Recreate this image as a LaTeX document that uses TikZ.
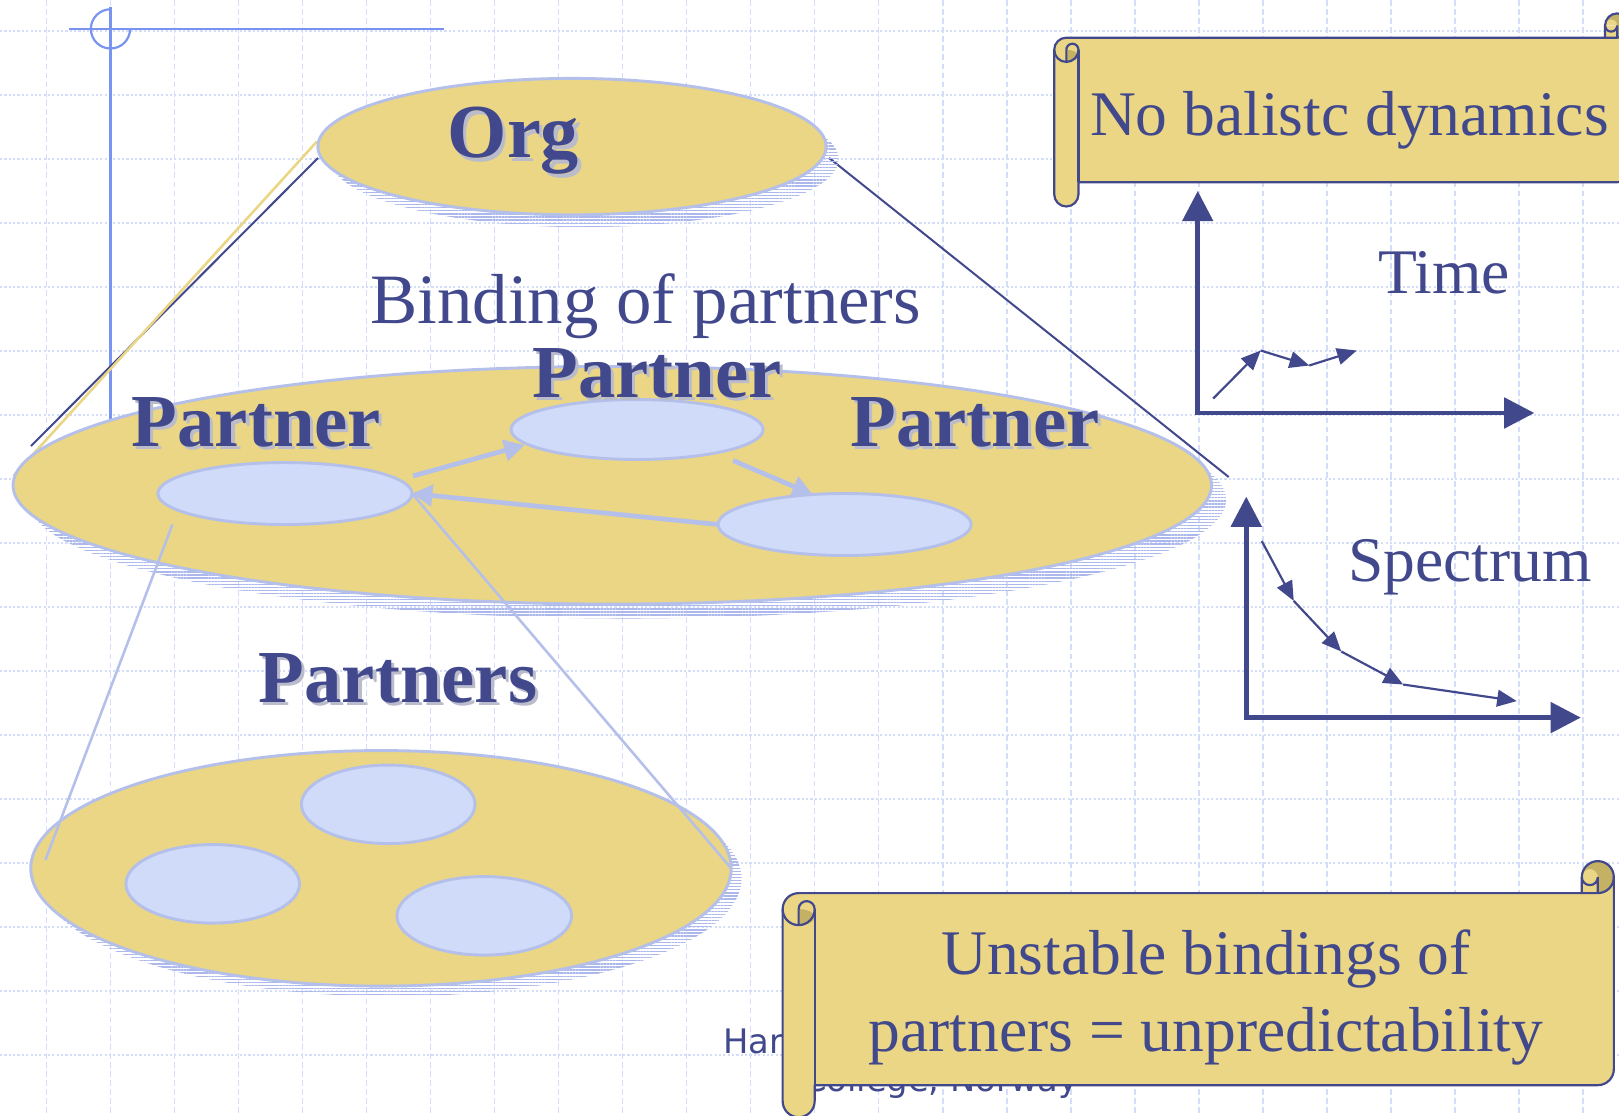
\documentclass[tikz,border=0pt]{standalone}
\usepackage{fontspec}
\setmainfont{Liberation Serif}
\newfontfamily\footfont{DejaVu Sans}
\usetikzlibrary{shapes.geometric,patterns.meta,arrows.meta}
\definecolor{khaki}{RGB}{234,214,132}
\definecolor{curlc}{RGB}{196,177,99}
\definecolor{lblue}{RGB}{207,219,249}
\definecolor{edgeblue}{RGB}{180,191,234}
\definecolor{hatchc}{RGB}{172,184,236}
\definecolor{dblue}{RGB}{65,72,140}
\definecolor{gridc}{RGB}{212,222,250}
\definecolor{crossc}{RGB}{120,148,240}
\definecolor{tshadow}{RGB}{186,188,204}
\newcommand\myscroll[5]{%
 \pgfmathsetmacro\scL{#1}\pgfmathsetmacro\scT{#2}%
 \pgfmathsetmacro\scR{#3}\pgfmathsetmacro\scB{#4}%
 \pgfmathsetmacro\scH{#5/2}\pgfmathsetmacro\scQ{#5/4}%
 \pgfmathsetmacro\scyA{#2+#5/2}\pgfmathsetmacro\scyB{#2+#5}%
 \pgfmathsetmacro\scyC{#2+1.5*#5}\pgfmathsetmacro\scyD{#2+2*#5}%
 \pgfmathsetmacro\scyE{#4-1.5*#5}\pgfmathsetmacro\scyF{#4-#5}\pgfmathsetmacro\scyG{#4-#5/2}%
 \pgfmathsetmacro\scxA{#1+#5/2}\pgfmathsetmacro\scxB{#1+#5}%
 \pgfmathsetmacro\scxC{#3-#5}\pgfmathsetmacro\scxD{#3-#5/2}%
 \fill[khaki] (\scR,\scyA) arc[start angle=0,end angle=90,radius=\scH] -- (\scxA,\scyB) arc[start angle=270,end angle=180,radius=\scH] -- (\scL,\scyG) arc[start angle=180,end angle=0,radius=\scH] -- (\scxB,\scyF) -- (\scxD,\scyF) arc[start angle=90,end angle=0,radius=\scH] -- cycle;
 \fill[khaki] (\scxC,\scyA) rectangle (\scxD,\scyB);
 \fill[khaki] (\scxC,\scyA) arc[start angle=180,end angle=360,radius=\scQ] -- cycle;
 \fill[curlc] (\scxD,\scyB) arc[start angle=90,end angle=-180,radius=\scH] arc[start angle=180,end angle=360,radius=\scQ] -- cycle;
 \fill[curlc] (\scxA,\scyD) arc[start angle=90,end angle=-90,x radius=\scH,y radius=\scQ] -- cycle;
 \draw[scrollline,line join=round] (\scL,\scyC) arc[start angle=180,end angle=270,radius=\scH] -- (\scxC,\scyB) -- (\scxC,\scyA) arc[start angle=180,end angle=360,radius=\scH] -- (\scR,\scyE) arc[start angle=0,end angle=90,radius=\scH] -- (\scxB,\scyF) -- (\scxB,\scyG) arc[start angle=0,end angle=180,radius=\scH] -- cycle;
 \draw[scrollline] (\scxC,\scyB) -- (\scxD,\scyB) arc[start angle=90,end angle=0,radius=\scH];
 \draw[scrollline] (\scxD,\scyB) -- (\scxD,\scyA) arc[start angle=0,end angle=180,radius=\scQ];
 \draw[scrollline] (\scxA,\scyD) -- (\scxA,\scyC) arc[start angle=180,end angle=360,radius=\scQ] arc[start angle=0,end angle=180,radius=\scH];
 \draw[scrollline] (\scxB,\scyC) -- (\scxB,\scyF);
}
\begin{document}
\begin{tikzpicture}[x=0.01cm,y=-0.01cm,
  gridv/.style={gridc,line width=0.45pt,dash pattern=on 1.6pt off 0.9pt},
  gridh/.style={gridc,line width=0.45pt,dash pattern=on 0.6pt off 0.6pt},
  bigell/.style={ellipse,draw=edgeblue,line width=0.8pt,fill=khaki,inner sep=0pt,outer sep=0pt},
  smallell/.style={ellipse,draw=edgeblue,line width=0.8pt,fill=lblue,inner sep=0pt,outer sep=0pt},
  hatchfill/.style={pattern={Lines[angle=0,distance=0.85pt,line width=0.35pt]},pattern color=hatchc},
  blab/.style={font=\fontsize{20.6}{24}\selectfont\bfseries,text=dblue,inner sep=0pt,anchor=base west},
  blabsh/.style={blab,text=tshadow},
  rlab/.style={font=\fontsize{17.5}{21.1}\selectfont,text=dblue,inner sep=0pt,anchor=base west},
  axisline/.style={dblue,line width=1.3pt,line join=miter,{Triangle[length=8.3pt,width=8.3pt]}-{Triangle[length=8.3pt,width=8.3pt]}},
  sarrow/.style={dblue,line width=0.6pt,-{Triangle[length=5.4pt,width=4.6pt]}},
  larrow/.style={edgeblue,line width=1.3pt,-{Triangle[length=5.6pt,width=5.8pt]}},
  zoomline/.style={edgeblue,line width=0.7pt},
  conn/.style={dblue,line width=0.55pt},
  scrollline/.style={dblue,line width=0.6pt},
  footlab/.style={font=\footfont\fontsize{9.3}{11}\selectfont,text=dblue,inner sep=0pt,anchor=base west},
]
\useasboundingbox (0,0) rectangle (1568,1080);
\clip (0,0) rectangle (1568,1080);
\fill[white] (0,0) rectangle (1568,1080);
% grid
\foreach \gx in {45,107,...,1540} \draw[gridv] (\gx,0) -- (\gx,1080);
\foreach \gy in {30,92,...,1080} \draw[gridh] (0,\gy) -- (1568,\gy);
% corner mark
\draw[crossc,line width=0.6pt] (67,28) -- (430,28);
\draw[crossc,line width=0.6pt] (107,7) -- (107,440);
\draw[crossc,line width=0.6pt] (126,28) arc[start angle=0,end angle=270,radius=19];
% connector lines from Org
\coordinate (oL1) at (308,153); \coordinate (pE1) at (30,432);
\coordinate (oL2) at (307,137); \coordinate (pE2) at (13,461);
\coordinate (oR) at (803,153); \coordinate (pE3) at (1190,462);
\draw[conn] (oL1) -- (pE1);
\draw[khaki,line width=0.7pt] (oL2) -- (pE2);
\draw[conn] (oR) -- (pE3);
% shadows
\fill[hatchfill] (566,154) ellipse[x radius=2.46cm,y radius=0.66cm];
\fill[hatchfill] (607,484) ellipse[x radius=5.8cm,y radius=1.15cm];
\fill[hatchfill] (379,851) ellipse[x radius=3.39cm,y radius=1.14cm];
% ellipses
\node[bigell,minimum width=4.92cm,minimum height=1.32cm] (org) at (554,142) {};
\node[bigell,minimum width=11.6cm,minimum height=2.3cm] (pe) at (593,470) {};
\node[bigell,minimum width=6.78cm,minimum height=2.28cm] (ps) at (369,841) {};
\node[smallell,minimum width=2.46cm,minimum height=0.6cm] (pl) at (276,478) {};
\node[smallell,minimum width=2.44cm,minimum height=0.58cm] (pt) at (617,416) {};
\node[smallell,minimum width=2.45cm,minimum height=0.6cm] (pr) at (818,508) {};
\node[smallell,minimum width=1.68cm,minimum height=0.76cm] (s1) at (376,779) {};
\node[smallell,minimum width=1.68cm,minimum height=0.76cm] (s2) at (206,856) {};
\node[smallell,minimum width=1.69cm,minimum height=0.76cm] (s3) at (469,887) {};
% arrows between partners
\coordinate (a1s) at (400,461); \coordinate (a1e) at (508,431);
\coordinate (a2s) at (710,446); \coordinate (a2e) at (787,479);
\draw[larrow] (a1s) -- (a1e);
\draw[larrow] (a2s) -- (a2e);
\draw[larrow] (pr.west) -- (pl.east);
% zoom lines
\coordinate (z1) at (167,508); \coordinate (z2) at (44,833);
\draw[zoomline] (z1) -- (z2);
\draw[zoomline] (pl.east) -- (ps.east);
% labels
\node[blabsh,font=\fontsize{21}{24}\selectfont\bfseries] at (436,156) {Org};
\node[blab,font=\fontsize{21}{24}\selectfont\bfseries] (torg) at (433,153) {Org};
\node[rlab,font=\fontsize{19.5}{23}\selectfont] (tbind) at (358,313) {Binding of partners};
\node[blabsh] at (130,435) {Partner};
\node[blab] (tp1) at (127,432) {Partner};
\node[blabsh] at (518,388) {Partner};
\node[blab] (tp2) at (515,385) {Partner};
\node[blabsh] at (826,435) {Partner};
\node[blab] (tp3) at (823,432) {Partner};
\node[blabsh] at (253,683) {Partners};
\node[blab] (tps) at (250,680) {Partners};
% time graph
\coordinate (t0) at (1160,400); \coordinate (ty) at (1160,185); \coordinate (tx) at (1486,400);
\draw[axisline] (ty) -- (t0) -- (tx);
\coordinate (ta1) at (1175,386); \coordinate (ta2) at (1221,339.5);
\coordinate (ta3) at (1268,354); \coordinate (ta4) at (1314,339.5);
\draw[sarrow] (ta1) -- (ta2);
\draw[sarrow] (ta2) -- (ta3);
\draw[sarrow] (ta3) -- (ta4);
\node[rlab] (ttime) at (1334,284) {Time};
% spectrum graph
\coordinate (s0) at (1207,695); \coordinate (sy) at (1207,481); \coordinate (sx) at (1531,695);
\draw[axisline] (sy) -- (s0) -- (sx);
\coordinate (sp1) at (1222,524); \coordinate (sp2) at (1253,582);
\coordinate (sp3) at (1299,631); \coordinate (sp4) at (1359,663);
\coordinate (sp5) at (1469,679);
\draw[sarrow] (sp1) -- (sp2);
\draw[sarrow] (sp2) -- (sp3);
\draw[sarrow] (sp3) -- (sp4);
\draw[sarrow] (sp4) -- (sp5);
\node[rlab] (tspec) at (1305,563) {Spectrum};
% top scroll
\myscroll{1021}{13}{1578}{200}{23.5}
\node[rlab] (tnob) at (1055,131) {No balistc dynamics};
% footer
\node[footlab] (f1) at (700,1020) {Har};
\node[footlab] (f2) at (777,1057) {College, Norway};
% bottom scroll
\myscroll{758}{834}{1563}{1082}{31}
\node[rlab,anchor=base,align=center] (tunst) at (1168,1018) {Unstable bindings of\\partners = unpredictability};
\end{tikzpicture}
\end{document}
